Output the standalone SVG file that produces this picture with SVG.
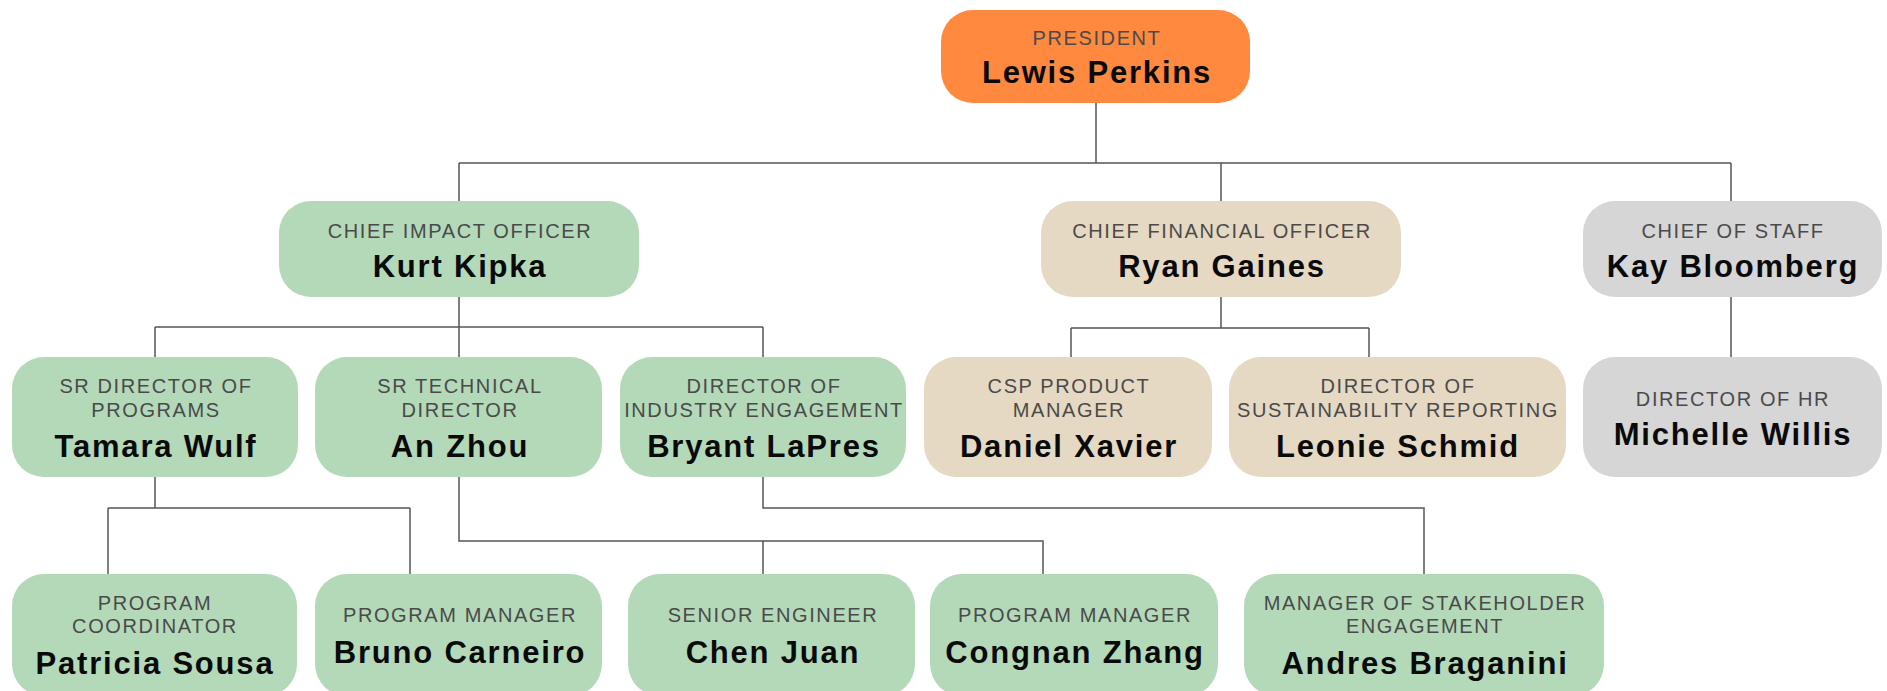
<svg xmlns="http://www.w3.org/2000/svg" width="1887" height="691" viewBox="0 0 1887 691">
<style>
.b{stroke:none}
.o{fill:#FE893F}
.g{fill:#B3D9B9}
.e{fill:#E6D9C3}
.y{fill:#D6D6D6}
.t{font-family:"Liberation Sans",Arial,sans-serif;font-size:20px;letter-spacing:1.6px;fill:#4a4a4a;text-anchor:middle}
.n{font-family:"Liberation Sans",Arial,sans-serif;font-size:31px;font-weight:bold;letter-spacing:1.8px;fill:#0a0a0a;text-anchor:middle}
.c{fill:none;stroke:#555;stroke-width:1.5}
</style>
<rect width="1887" height="691" fill="#fff"/>
<g id="connectors" class="c">
<path d="M1096 103V163M459 163H1731M459 163V201M1221 163V201M1731 163V201"/>
<path d="M459 297V327M155 327H763M155 327V357M459 327V357M763 327V357"/>
<path d="M1221 297V328M1071 328H1369M1071 328V357M1369 328V357"/>
<path d="M1731 297V357"/>
<path d="M155 477V508M108 508H410M108 508V574M410 508V574"/>
<path d="M459 477V541H1043V574M763 541V574"/>
<path d="M763 477V508H1424V574"/>
</g>
<g id="president">
<rect class="b o" x="941" y="10" width="309" height="93" rx="32"/>
<text class="t" x="1097" y="45">PRESIDENT</text>
<text class="n" x="1097" y="83">Lewis Perkins</text>
</g>
<g id="kurt">
<rect class="b g" x="279" y="201" width="360" height="96" rx="32"/>
<text class="t" x="460" y="238">CHIEF IMPACT OFFICER</text>
<text class="n" x="460" y="277">Kurt Kipka</text>
</g>
<g id="ryan">
<rect class="b e" x="1041" y="201" width="360" height="96" rx="32"/>
<text class="t" x="1222" y="238">CHIEF FINANCIAL OFFICER</text>
<text class="n" x="1222" y="277">Ryan Gaines</text>
</g>
<g id="kay">
<rect class="b y" x="1583" y="201" width="299" height="96" rx="32"/>
<text class="t" x="1733" y="238">CHIEF OF STAFF</text>
<text class="n" x="1733" y="277">Kay Bloomberg</text>
</g>
<g id="tamara">
<rect class="b g" x="12" y="357" width="286" height="120" rx="32"/>
<text class="t" x="156" y="393">SR DIRECTOR OF</text>
<text class="t" x="156" y="417">PROGRAMS</text>
<text class="n" x="156" y="457">Tamara Wulf</text>
</g>
<g id="anzhou">
<rect class="b g" x="315" y="357" width="287" height="120" rx="32"/>
<text class="t" x="460" y="393">SR TECHNICAL</text>
<text class="t" x="460" y="417">DIRECTOR</text>
<text class="n" x="460" y="457">An Zhou</text>
</g>
<g id="bryant">
<rect class="b g" x="620" y="357" width="286" height="120" rx="32"/>
<text class="t" x="764" y="393">DIRECTOR OF</text>
<text class="t" x="764" y="417">INDUSTRY ENGAGEMENT</text>
<text class="n" x="764" y="457">Bryant LaPres</text>
</g>
<g id="daniel">
<rect class="b e" x="924" y="357" width="288" height="120" rx="32"/>
<text class="t" x="1069" y="393">CSP PRODUCT</text>
<text class="t" x="1069" y="417">MANAGER</text>
<text class="n" x="1069" y="457">Daniel Xavier</text>
</g>
<g id="leonie">
<rect class="b e" x="1229" y="357" width="337" height="120" rx="32"/>
<text class="t" x="1398" y="393">DIRECTOR OF</text>
<text class="t" x="1398" y="417">SUSTAINABILITY REPORTING</text>
<text class="n" x="1398" y="457">Leonie Schmid</text>
</g>
<g id="michelle">
<rect class="b y" x="1583" y="357" width="299" height="120" rx="32"/>
<text class="t" x="1733" y="406">DIRECTOR OF HR</text>
<text class="n" x="1733" y="445">Michelle Willis</text>
</g>
<g id="patricia">
<rect class="b g" x="12" y="574" width="285" height="122" rx="32"/>
<text class="t" x="155" y="610">PROGRAM</text>
<text class="t" x="155" y="633">COORDINATOR</text>
<text class="n" x="155" y="674">Patricia Sousa</text>
</g>
<g id="bruno">
<rect class="b g" x="315" y="574" width="287" height="122" rx="32"/>
<text class="t" x="460" y="622">PROGRAM MANAGER</text>
<text class="n" x="460" y="663">Bruno Carneiro</text>
</g>
<g id="chen">
<rect class="b g" x="628" y="574" width="287" height="122" rx="32"/>
<text class="t" x="773" y="622">SENIOR ENGINEER</text>
<text class="n" x="773" y="663">Chen Juan</text>
</g>
<g id="congnan">
<rect class="b g" x="930" y="574" width="288" height="122" rx="32"/>
<text class="t" x="1075" y="622">PROGRAM MANAGER</text>
<text class="n" x="1075" y="663">Congnan Zhang</text>
</g>
<g id="andres">
<rect class="b g" x="1244" y="574" width="360" height="122" rx="32"/>
<text class="t" x="1425" y="610">MANAGER OF STAKEHOLDER</text>
<text class="t" x="1425" y="633">ENGAGEMENT</text>
<text class="n" x="1425" y="674">Andres Braganini</text>
</g>
</svg>
